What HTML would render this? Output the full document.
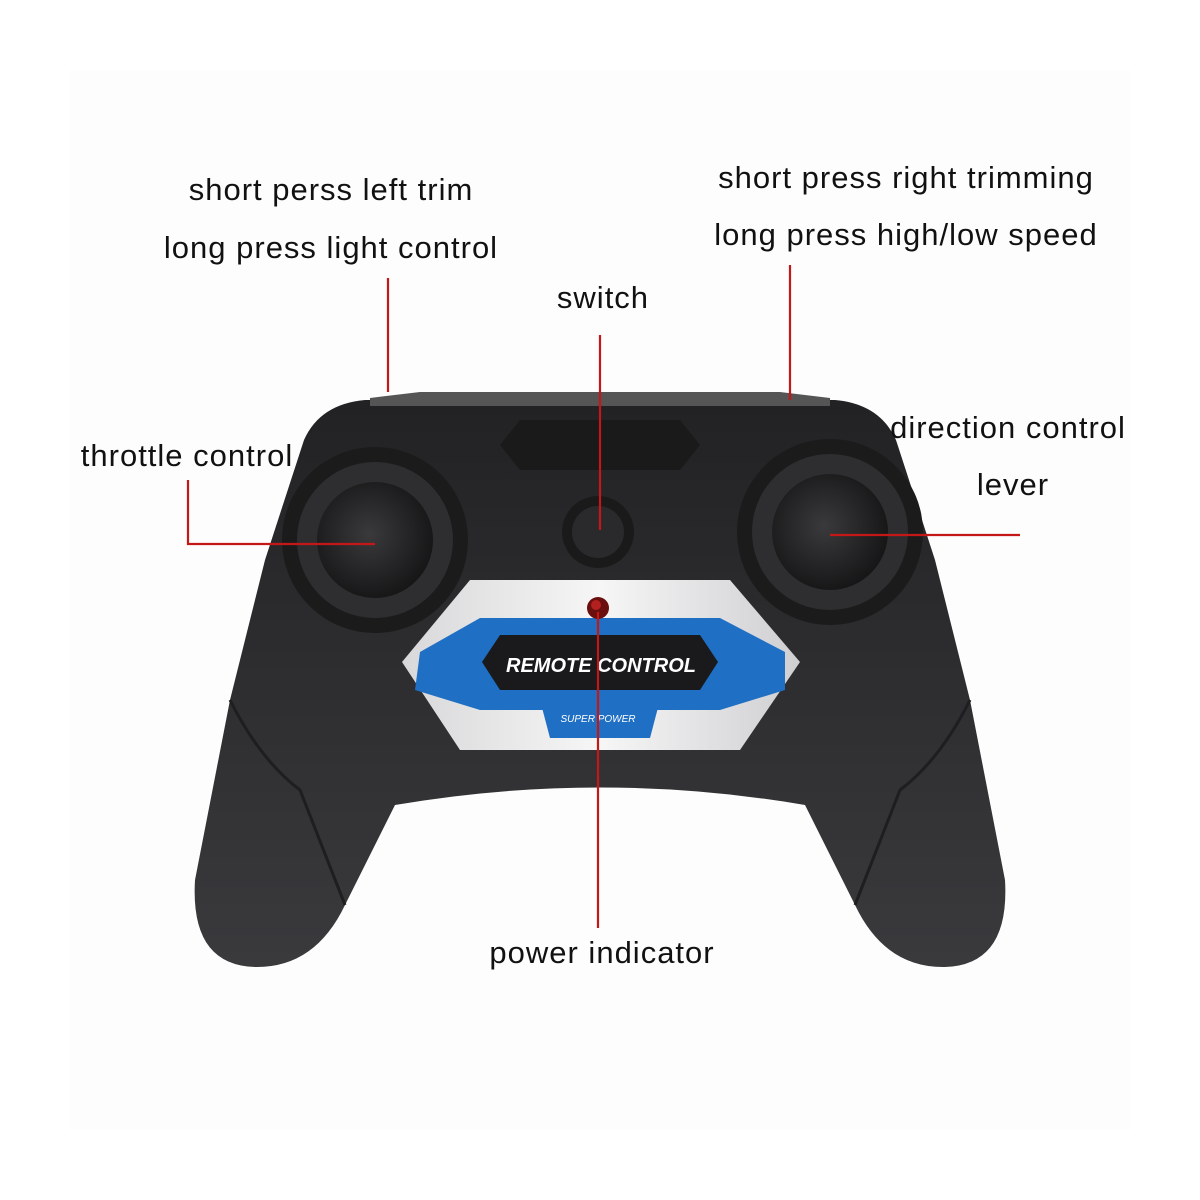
<!DOCTYPE html>
<html><head><meta charset="utf-8"><style>
html,body{margin:0;padding:0;background:#fff}
svg{display:block}
text{font-family:"Liberation Sans",Arial,sans-serif;font-size:31px;letter-spacing:1px;fill:#111}
</style></head><body>
<svg width="1200" height="1200" viewBox="0 0 1200 1200">
<defs>
<radialGradient id="stick" cx="0.45" cy="0.45" r="0.6"><stop offset="0" stop-color="#3a3a3c"/><stop offset="1" stop-color="#141415"/></radialGradient>
<linearGradient id="body" x1="0" y1="0" x2="0" y2="1"><stop offset="0" stop-color="#222224"/><stop offset="1" stop-color="#3a3a3d"/></linearGradient>
<linearGradient id="plate" x1="0" y1="0" x2="1" y2="0"><stop offset="0" stop-color="#d8d8da"/><stop offset="0.5" stop-color="#f6f6f6"/><stop offset="1" stop-color="#cfcfd2"/></linearGradient>
</defs>
<rect x="70" y="70" width="1060" height="1060" fill="#fdfdfd"/>
<path d="M365,400 L835,400 Q880,404 896,440 L935,560 Q955,640 970,700 L1005,880 Q1010,965 945,967 Q885,968 855,905 L805,805 Q600,770 395,805 L345,905 Q315,968 255,967 Q190,965 195,880 L230,700 Q245,640 265,560 L304,440 Q320,404 365,400 Z" fill="url(#body)"/>
<path d="M370,398 L420,392 L780,392 L830,398 L830,406 L370,406Z" fill="#555"/>
<path d="M520,420 L680,420 L700,445 L680,470 L520,470 L500,445Z" fill="#1a1a1b"/>
<path d="M230,700 Q260,760 300,790 L345,905" fill="none" stroke="#1e1e20" stroke-width="3"/>
<path d="M970,700 Q940,760 900,790 L855,905" fill="none" stroke="#1e1e20" stroke-width="3"/>
<circle cx="375" cy="540" r="93" fill="#1b1b1c"/>
<circle cx="375" cy="540" r="78" fill="#2e2e30"/>
<circle cx="375" cy="540" r="58" fill="url(#stick)"/>
<circle cx="830" cy="532" r="93" fill="#1b1b1c"/>
<circle cx="830" cy="532" r="78" fill="#2e2e30"/>
<circle cx="830" cy="532" r="58" fill="url(#stick)"/>
<circle cx="598" cy="532" r="36" fill="#1a1a1b"/>
<circle cx="598" cy="532" r="26" fill="#2a2a2c"/>
<path d="M470,580 L730,580 L800,662 L740,750 L460,750 L402,662 Z" fill="url(#plate)"/>
<path d="M420,652 L480,618 L720,618 L785,652 L785,690 L720,710 L480,710 L415,690 Z" fill="#1f6fc4"/>
<path d="M540,700 L660,700 L650,738 L550,738 Z" fill="#1f6fc4"/>
<path d="M500,635 L700,635 L718,662 L700,690 L500,690 L482,662 Z" fill="#1a1a1c"/>
<text x="601" y="672" text-anchor="middle" style="font-size:20px;letter-spacing:0;font-weight:bold;font-style:italic;fill:#fff">REMOTE CONTROL</text>
<text x="598" y="722" text-anchor="middle" style="font-size:10px;letter-spacing:0;font-style:italic;fill:#fff">SUPER POWER</text>
<circle cx="598" cy="608" r="11" fill="#6a0e0e"/>
<circle cx="596" cy="605" r="5" fill="#b32020"/>
<g stroke="#c41818" stroke-width="2.2" fill="none">
<line x1="388" y1="278" x2="388" y2="392"/>
<line x1="600" y1="335" x2="600" y2="530"/>
<line x1="790" y1="265" x2="790" y2="400"/>
<polyline points="188,480 188,544 375,544"/>
<line x1="830" y1="535" x2="1020" y2="535"/>
<line x1="598" y1="612" x2="598" y2="928"/>
</g>
<text x="331" y="200" text-anchor="middle">short perss left trim</text>
<text x="331" y="258" text-anchor="middle">long press light control</text>
<text x="603" y="308" text-anchor="middle">switch</text>
<text x="906" y="188" text-anchor="middle">short press right trimming</text>
<text x="906" y="245" text-anchor="middle">long press high/low speed</text>
<text x="187" y="466" text-anchor="middle">throttle control</text>
<text x="1008" y="438" text-anchor="middle">direction control</text>
<text x="1013" y="495" text-anchor="middle">lever</text>
<text x="602" y="963" text-anchor="middle">power indicator</text>
</svg>
</body></html>
